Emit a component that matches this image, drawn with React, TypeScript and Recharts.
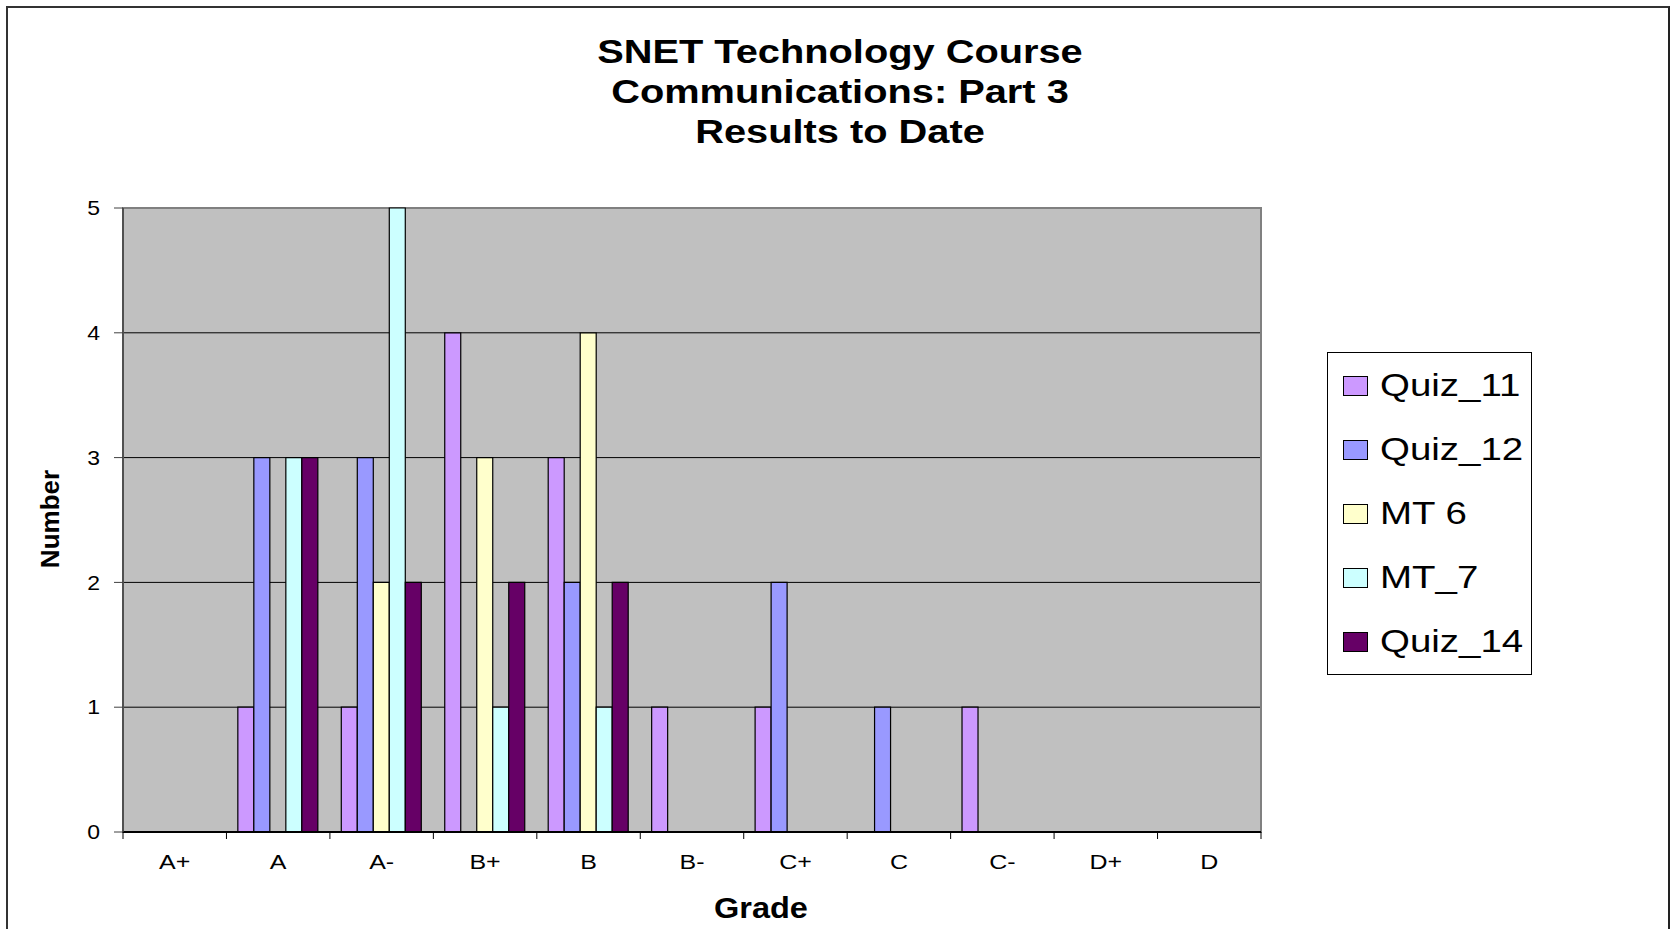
import React from "react";
import { BarChart, Bar, XAxis, YAxis, CartesianGrid, Legend, ReferenceArea } from "recharts";

// grade buckets and counts per assessment
const grades = ["A+", "A", "A-", "B+", "B", "B-", "C+", "C", "C-", "D+", "D"];
const quiz11 = [0, 1, 1, 4, 3, 1, 1, 0, 1, 0, 0];
const quiz12 = [0, 3, 3, 0, 2, 0, 2, 1, 0, 0, 0];
const mt6 = [0, 0, 2, 3, 4, 0, 0, 0, 0, 0, 0];
const mt7 = [0, 3, 5, 1, 1, 0, 0, 0, 0, 0, 0];
const quiz14 = [0, 3, 2, 2, 2, 0, 0, 0, 0, 0, 0];
const yTicks = [0, 1, 2, 3, 4, 5];

const series = [
  { name: "Quiz_11", values: quiz11, color: "#CC99FF" },
  { name: "Quiz_12", values: quiz12, color: "#9999FF" },
  { name: "MT 6", values: mt6, color: "#FFFFCC" },
  { name: "MT_7", values: mt7, color: "#CCFFFF" },
  { name: "Quiz_14", values: quiz14, color: "#660066" },
];
const seriesOrder = series.map((s) => s.name);

const data = grades.map((grade, i) => {
  const row: Record<string, string | number> = { grade };
  series.forEach((s) => (row[s.name] = s.values[i]));
  return row;
});

const FONT = "'Liberation Sans', Arial, sans-serif";

function GradeTick(props: any) {
  const { x, y, payload, index, visibleTicksCount } = props;
  const half = payload && payload.offset ? payload.offset : 51.7;
  return (
    <g>
      <line x1={x - half} y1={y} x2={x - half} y2={y + 7} stroke="#000" strokeWidth={1} />
      {index === visibleTicksCount - 1 && (
        <line x1={x + half} y1={y} x2={x + half} y2={y + 7} stroke="#000" strokeWidth={1} />
      )}
      <text
        transform={`translate(${x},${y + 37}) scale(1.25,1)`}
        textAnchor="middle"
        fontSize={20}
        fontFamily={FONT}
        fill="#000"
      >
        {payload.value}
      </text>
    </g>
  );
}

function NumberTick(props: any) {
  const { x, y, payload } = props;
  return (
    <text
      transform={`translate(${x},${y}) scale(1.15,1)`}
      textAnchor="end"
      dy="0.36em"
      fontSize={20}
      fontFamily={FONT}
      fill="#000"
    >
      {payload.value}
    </text>
  );
}

function LegendBox(props: any) {
  // keep the series order instead of the library's alphabetical sort
  const items = [...(props.payload || [])].sort(
    (a: any, b: any) => seriesOrder.indexOf(a.value) - seriesOrder.indexOf(b.value)
  );
  return (
    <div
      style={{
        border: "1px solid #000",
        background: "#fff",
        paddingTop: 1,
        boxSizing: "border-box",
        width: 205,
        height: 323,
        fontFamily: FONT,
      }}
    >
      {items.map((p: any) => (
        <div key={p.value} style={{ height: 64, display: "flex", alignItems: "center", position: "relative" }}>
          <span
            style={{
              position: "absolute",
              left: 15,
              width: 23,
              height: 18,
              background: p.color,
              border: "1px solid #000",
            }}
          />
          <span
            style={{
              position: "absolute",
              left: 52,
              fontSize: 31,
              lineHeight: "64px",
              transform: "scaleX(1.24)",
              transformOrigin: "left center",
              whiteSpace: "nowrap",
              color: "#000",
            }}
          >
            {p.value}
          </span>
        </div>
      ))}
    </div>
  );
}

export default function App() {
  return (
    <div
      style={{
        position: "absolute",
        left: 6,
        top: 6,
        width: 1664,
        height: 923,
        borderTop: "2px solid #333",
        borderLeft: "2px solid #333",
        borderRight: "2px solid #222",
        boxSizing: "border-box",
        background: "#fff",
        overflow: "hidden",
      }}
    >
      <div style={{ position: "relative", width: 1660, height: 921 }}>
        <div
          style={{
            position: "absolute",
            left: 2,
            top: 23,
            width: 1660,
            textAlign: "center",
            fontFamily: FONT,
            fontWeight: "bold",
            fontSize: 34,
            lineHeight: "40px",
            color: "#000",
          }}
        >
          <div style={{ transform: "scaleX(1.17)" }}>SNET Technology Course</div>
          <div style={{ transform: "scaleX(1.17)" }}>Communications: Part 3</div>
          <div style={{ transform: "scaleX(1.17)" }}>Results to Date</div>
        </div>

        <BarChart
          width={1660}
          height={921}
          data={data}
          margin={{ top: 200, right: 407, bottom: 57, left: 55 }}
          barCategoryGap="11%"
          barGap={0}
        >
          <CartesianGrid vertical={false} stroke="#000" fill="#C0C0C0" />
          <ReferenceArea x1="A+" x2="D" y1={0} y2={5} fill="none" stroke="#808080" strokeWidth={2} />
          <XAxis
            dataKey="grade"
            height={40}
            tickLine={false}
            tickSize={0}
            tickMargin={0}
            interval={0}
            axisLine={{ stroke: "#000", strokeWidth: 2 }}
            tick={<GradeTick />}
          />
          <YAxis
            width={60}
            domain={[0, 5]}
            ticks={yTicks}
            interval={0}
            tickSize={9}
            tickMargin={14}
            axisLine={{ stroke: "#404040", strokeWidth: 1.5 }}
            tickLine={{ stroke: "#404040" }}
            tick={<NumberTick />}
          />
          <Legend
            layout="horizontal"
            verticalAlign="middle"
            align="center"
            content={<LegendBox />}
            wrapperStyle={{ left: 1319, top: 344, width: 205, height: 323 }}
          />
          {series.map((s) => (
            <Bar
              key={s.name}
              dataKey={s.name}
              fill={s.color}
              stroke="#000"
              strokeWidth={1.2}
              isAnimationActive={false}
            />
          ))}
        </BarChart>

        <div
          style={{
            position: "absolute",
            left: 42,
            top: 511,
            transform: "translate(-50%,-50%) rotate(-90deg)",
            fontFamily: FONT,
            fontWeight: "bold",
            fontSize: 26,
            whiteSpace: "nowrap",
            color: "#000",
          }}
        >
          Number
        </div>
        <div
          style={{
            position: "absolute",
            left: 753,
            top: 900,
            transform: "translate(-50%,-50%) scaleX(1.12)",
            fontFamily: FONT,
            fontWeight: "bold",
            fontSize: 29,
            whiteSpace: "nowrap",
            color: "#000",
          }}
        >
          Grade
        </div>
      </div>
    </div>
  );
}
